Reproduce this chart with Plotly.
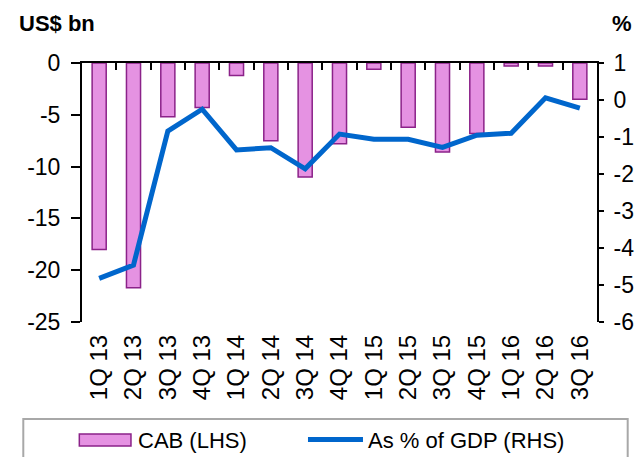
import plotly.graph_objects as go

categories = ["1Q 13", "2Q 13", "3Q 13", "4Q 13", "1Q 14", "2Q 14", "3Q 14", "4Q 14",
              "1Q 15", "2Q 15", "3Q 15", "4Q 15", "1Q 16", "2Q 16", "3Q 16"]
cab_lhs = [-18.0, -21.7, -5.2, -4.3, -1.2, -7.5, -11.0, -7.8,
           -0.6, -6.2, -8.6, -6.8, -0.3, -0.3, -3.5]
pct_gdp_rhs = [-4.82, -4.46, -0.84, -0.25, -1.35, -1.29, -1.86, -0.92,
               -1.06, -1.06, -1.28, -0.95, -0.90, 0.06, -0.22]
left_ticks = [0, -5, -10, -15, -20, -25]
right_ticks = [1, 0, -1, -2, -3, -4, -5, -6]
series_names = ["CAB (LHS)", "As % of GDP (RHS)"]

FONT = "Liberation Sans, Arial, sans-serif"
BAR_FILL = "#E592E2"
BAR_EDGE = "#8B2289"
LINE_COL = "#0066CC"
xpos = list(range(len(categories)))

fig = go.Figure()
fig.add_trace(go.Bar(
    x=xpos, y=cab_lhs, name=series_names[0], width=0.41,
    marker=dict(color=BAR_FILL, line=dict(color=BAR_EDGE, width=1.5)),
    xaxis="x", yaxis="y", showlegend=False,
))
fig.add_trace(go.Scatter(
    x=xpos, y=pct_gdp_rhs, name=series_names[1], mode="lines",
    line=dict(color=LINE_COL, width=5),
    xaxis="x2", yaxis="y2", showlegend=False,
))

fig.update_layout(
    width=635, height=457,
    margin=dict(l=82, r=38, t=63, b=135, autoexpand=False),
    paper_bgcolor="white", plot_bgcolor="white",
    font=dict(family=FONT, color="black", size=22),
    showlegend=False,
    xaxis=dict(range=[-0.5, 14.5], tickvals=xpos, ticktext=categories,
               tickangle=-90, showline=False, showgrid=False, zeroline=False,
               ticks="", ticklabelstandoff=7, tickfont=dict(size=24, family=FONT)),
    xaxis2=dict(range=[-0.5, 14.5], overlaying="x", side="top", anchor="y",
                tickvals=[i + 0.5 for i in xpos[:-1]], ticks="inside", ticklen=7,
                tickcolor="black", tickwidth=2, showticklabels=False,
                showline=True, linecolor="black", linewidth=2,
                showgrid=False, zeroline=False),
    yaxis=dict(range=[-25, 0], tickvals=left_ticks, ticktext=[str(v) for v in left_ticks],
               ticks="outside", ticklen=9, ticklabelstandoff=6,
               tickwidth=2, tickcolor="black", showline=True, linecolor="black",
               linewidth=2, showgrid=False, zeroline=False,
               tickfont=dict(size=23, family=FONT)),
    yaxis2=dict(range=[-6, 1], tickvals=right_ticks, ticktext=[str(v) for v in right_ticks],
                overlaying="y", side="right",
                anchor="x2", ticks="outside", ticklen=5, ticklabelstandoff=5,
                tickwidth=2, tickcolor="black",
                showline=True, linecolor="black", linewidth=2, showgrid=False,
                zeroline=False, tickfont=dict(size=23, family=FONT)),
    shapes=[
        # legend frame
        dict(type="rect", xref="paper", yref="paper",
             x0=-0.114, x1=1.0596, y0=-0.62, y1=-0.3745,
             line=dict(color="#A8A8A8", width=2), fillcolor="rgba(0,0,0,0)"),
        # legend swatch: bars
        dict(type="rect", xref="paper", yref="paper",
             x0=-0.0052, x1=0.0951, y0=-0.4788, y1=-0.4324,
             line=dict(color=BAR_EDGE, width=1.5), fillcolor=BAR_FILL),
        # legend swatch: line
        dict(type="line", xref="paper", yref="paper",
             x0=0.4388, x1=0.5456, y0=-0.4532, y1=-0.4532,
             line=dict(color=LINE_COL, width=5)),
    ],
    annotations=[
        dict(text="<b>US$ bn</b>", xref="paper", yref="paper", x=-0.1262, y=1.1544,
             xanchor="left", yanchor="middle", showarrow=False,
             font=dict(size=22, family=FONT)),
        dict(text="<b>%</b>", xref="paper", yref="paper", x=1.072, y=1.1544,
             xanchor="right", yanchor="middle", showarrow=False,
             font=dict(size=22, family=FONT)),
        dict(text=series_names[0], xref="paper", yref="paper", x=0.1045, y=-0.4556,
             xanchor="left", yanchor="middle", showarrow=False,
             font=dict(size=22, family=FONT)),
        dict(text=series_names[1], xref="paper", yref="paper", x=0.551, y=-0.4556,
             xanchor="left", yanchor="middle", showarrow=False,
             font=dict(size=22, family=FONT)),
    ],
)

fig.write_html("out.html", config={"displayModeBar": False},
               post_script="document.body.style.margin='0';document.body.style.overflow='hidden';")
